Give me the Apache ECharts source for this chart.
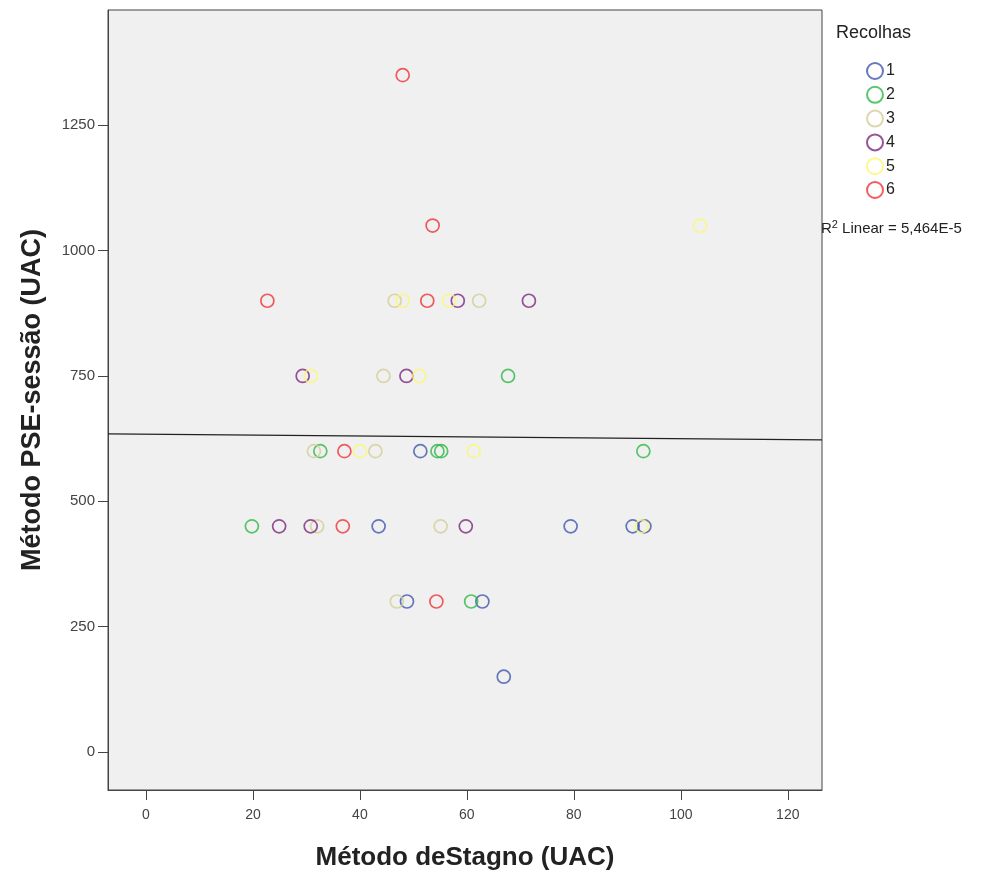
<!DOCTYPE html>
<html>
<head>
<meta charset="utf-8">
<script src="https://cdn.jsdelivr.net/npm/echarts@6/dist/echarts.min.js"></script>
<style>
  html, body { margin: 0; padding: 0; background: #fff; }
  #chart { width: 1008px; height: 876px; }
</style>
</head>
<body>
<div id="chart"></div>
<script>
// values: [Stagno, PSE-sessao]
const recolha1 = [[51.3, 600], [43.5, 450], [79.4, 450], [91.0, 450], [93.2, 450], [48.8, 300], [62.9, 300], [66.9, 150]]
const recolha2 = [[67.7, 750], [32.6, 600], [54.5, 600], [55.2, 600], [93.0, 600], [19.8, 450], [60.8, 300]]
const recolha3 = [[46.5, 900], [62.3, 900], [44.4, 750], [31.4, 600], [42.9, 600], [32.0, 450], [55.1, 450], [46.9, 300]]
const recolha4 = [[58.3, 900], [71.6, 900], [29.3, 750], [48.7, 750], [24.9, 450], [30.8, 450], [59.8, 450]]
const recolha5 = [[103.6, 1050], [48.0, 900], [56.7, 900], [30.8, 750], [51.1, 750], [40.0, 600], [61.3, 600], [92.7, 450]]
const recolha6 = [[48.0, 1350], [53.6, 1050], [22.7, 900], [52.6, 900], [37.1, 600], [36.8, 450], [54.3, 300]]
const groupNames = ['1', '2', '3', '4', '5', '6']
const groupColors = ['#3e58ac', '#2eb848', '#d3ce97', '#7c287d', '#fbf873', '#ef3338']
// fit line ends, as drawn
const fitLine = [[-7.1, 634.5], [126.4, 622.5]]
const xTicks = [0, 20, 40, 60, 80, 100, 120]
const yTicks = [0, 250, 500, 750, 1000, 1250]

const groups = [recolha1, recolha2, recolha3, recolha4, recolha5, recolha6]

const chart = echarts.init(document.getElementById('chart'))

const series = groups.map((d, i) => ({
  name: groupNames[i],
  type: 'scatter',
  data: d,
  symbol: 'circle',
  symbolSize: 13,
  itemStyle: {
    color: 'rgba(0,0,0,0)',
    borderColor: groupColors[i],
    borderWidth: 1.7
  },
  z: 3
}))
series.push({
  name: 'fit',
  type: 'line',
  data: fitLine,
  symbol: 'none',
  lineStyle: { color: '#222', width: 1.2 },
  silent: true,
  z: 2
})

chart.setOption({
  animation: false,
  textStyle: { fontFamily: 'Liberation Sans' },
  grid: {
    left: 108, right: 186, top: 10, bottom: 86,
    show: true,
    backgroundColor: '#f0f0f0',
    borderColor: '#444',
    borderWidth: 1
  },
  legend: {
    data: groupNames,
    orient: 'vertical',
    left: 861,
    top: 57,
    itemWidth: 16,
    itemHeight: 16,
    itemGap: 5.8,
    textStyle: { fontSize: 16, color: '#222', padding: [0, 0, 0, -2] }
  },
  xAxis: {
    type: 'value',
    min: -7.1,
    max: 126.4,
    name: 'Método deStagno (UAC)',
    nameLocation: 'middle',
    nameGap: 55,
    nameTextStyle: { fontSize: 26, fontWeight: 'bold', color: '#222' },
    splitLine: { show: false },
    axisLine: { onZero: false, lineStyle: { color: '#444' } },
    axisTick: { show: true, length: 10, customValues: xTicks, lineStyle: { color: '#444' } },
    axisLabel: { customValues: xTicks, fontSize: 14, color: '#444', margin: 18, formatter: v => String(v) }
  },
  yAxis: {
    type: 'value',
    min: -76,
    max: 1480,
    name: 'Método PSE-sessão (UAC)',
    nameLocation: 'middle',
    nameGap: 62,
    nameTextStyle: { fontSize: 27, fontWeight: 'bold', color: '#222' },
    splitLine: { show: false },
    axisLine: { show: true, onZero: false, lineStyle: { color: '#444' } },
    axisTick: { show: true, length: 10, customValues: yTicks, lineStyle: { color: '#444' } },
    axisLabel: { customValues: yTicks, fontSize: 15, color: '#444', margin: 13, formatter: v => String(v) }
  },
  graphic: [
    {
      type: 'text',
      left: 836,
      top: 24,
      style: { text: 'Recolhas', fontSize: 18, fill: '#222', fontFamily: 'Liberation Sans' }
    },
    {
      type: 'text',
      left: 821,
      top: 219,
      style: {
        text: 'R{sup|2} Linear = 5,464E-5',
        fontSize: 15,
        fill: '#222',
        fontFamily: 'Liberation Sans',
        rich: { sup: { fontSize: 11, verticalAlign: 'top', padding: [0, 0, 8, 0], fill: '#222' } }
      }
    }
  ],
  series: series
})
</script>
</body>
</html>
